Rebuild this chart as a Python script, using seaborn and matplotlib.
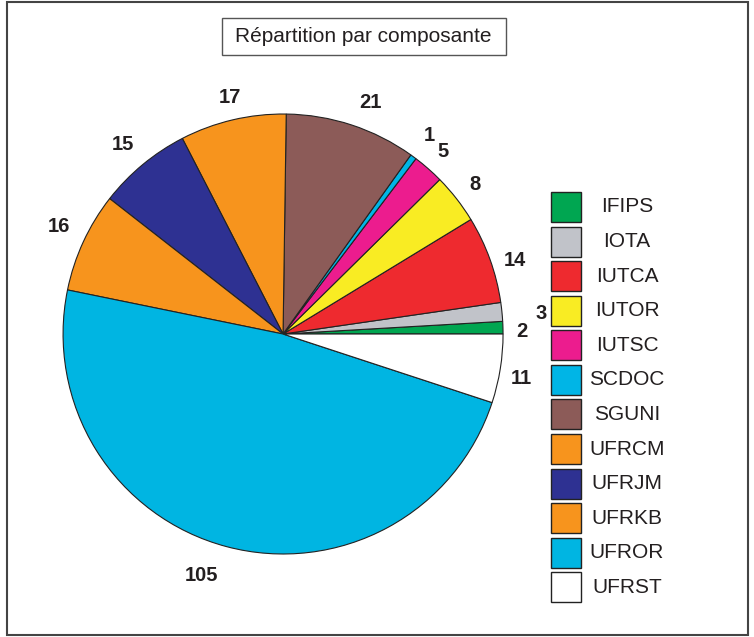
import matplotlib
matplotlib.use("Agg")
import matplotlib.pyplot as plt
from matplotlib.patches import Rectangle
import seaborn as sns

# données de la répartition
composantes = ["IFIPS", "IOTA", "IUTCA", "IUTOR", "IUTSC", "SCDOC",
               "SGUNI", "UFRCM", "UFRJM", "UFRKB", "UFROR", "UFRST"]
effectifs = [2, 3, 14, 8, 5, 1, 21, 17, 15, 16, 105, 11]
couleurs = ["#00A651", "#C1C3C9", "#EE2A2F", "#F9EC23", "#EC1C8E", "#00B5E6",
            "#8C5B58", "#F7941D", "#2E3192", "#F7941D", "#00B5E2", "#FFFFFF"]
titre = "Répartition par composante"

# petits décalages des étiquettes (en rayon), comme sur l'original
decalages = [(-0.036, -0.023), (0.06, -0.018), (0.0, -0.045), (-0.01, -0.01),
             (-0.01, -0.01), (0.0, 0.0), (0.05, -0.014), (0.014, -0.014),
             (-0.014, 0.0), (0.0, 0.018), (-0.082, -0.014), (-0.023, -0.027)]

sns.set_theme(style="white")
plt.rcParams["font.family"] = ["Liberation Sans", "DejaVu Sans"]

fig = plt.figure(figsize=(7.54, 6.37), dpi=100)
ax = fig.add_axes([0.0836, 0.1303, 0.5836, 0.6907])

palette = sns.color_palette(couleurs)
wedges, texts = ax.pie(effectifs, colors=palette, startangle=0, counterclock=True,
                       labels=[str(v) for v in effectifs], labeldistance=1.12,
                       wedgeprops=dict(edgecolor="#222222", linewidth=0.8),
                       textprops=dict(fontsize=14.5, fontweight="bold", color="#231F20"))
for t, (dx, dy) in zip(texts, decalages):
    x, y = t.get_position()
    t.set_position((x + dx, y + dy))
    t.set_ha("center")
    t.set_va("center")
ax.set_xlim(-1, 1)
ax.set_ylim(-1, 1)
ax.set_aspect("equal")
ax.axis("off")

# légende à droite (carrés), libellés centrés posés ensuite
leg = fig.legend(wedges, composantes, loc="upper left",
                 bbox_to_anchor=(551 / 754, 1 - 192 / 637),
                 frameon=False, fontsize=15, handlelength=1.44, handleheight=1.838,
                 labelspacing=0.22, handletextpad=0.75, borderpad=0, borderaxespad=0)
for h in leg.legend_handles:
    h.set_edgecolor("#222222")
    h.set_linewidth(1.0)

fig.canvas.draw()
inv = fig.transFigure.inverted()
for h, t in zip(leg.legend_handles, leg.get_texts()):
    bb = h.get_window_extent()
    _, yc = inv.transform((0, (bb.y0 + bb.y1) / 2))
    t.set_visible(False)
    fig.text(627 / 754, yc, t.get_text(), ha="center", va="center",
             fontsize=15, color="#231F20")

# cadre du titre
fig.patches.append(Rectangle((222 / 754, 1 - 55 / 637), 284 / 754, 37 / 637,
                             transform=fig.transFigure, fill=False,
                             edgecolor="#555555", linewidth=1.0))
fig.text(363 / 754, 1 - 36.5 / 637, titre, ha="center", va="center",
         fontsize=15, color="#231F20")

# cadre extérieur
fig.patches.append(Rectangle((7 / 754, 1 - 635 / 637), 741 / 754, 633 / 637,
                             transform=fig.transFigure, fill=False,
                             edgecolor="#444444", linewidth=1.5))

fig.savefig("out.png", dpi=100)
